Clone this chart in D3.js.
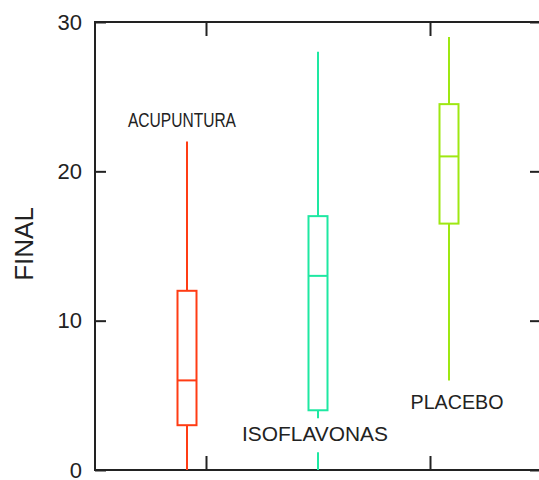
<!DOCTYPE html>
<html>
<head>
<meta charset="utf-8">
<script src="https://cdn.jsdelivr.net/npm/d3@7"></script>
<style>
  html, body { margin: 0; padding: 0; background: #fff; }
  svg { display: block; }
</style>
</head>
<body>
<svg id="chart" width="539" height="480"></svg>
<script>
// Box-plot summaries for each treatment group
const categories = ["ACUPUNTURA", "ISOFLAVONAS", "PLACEBO"];
const mins    = [0, 0, 6];
const q1s     = [3, 4, 16.5];
const medians = [6, 13, 21];
const q3s     = [12, 17, 24.5];
const maxs    = [22, 28, 29];
const yTicks  = [0, 10, 20, 30];
const xTicks  = [1, 3];
const yTitle  = "FINAL";

const colors = ["#ff3c14", "#1ee8a2", "#9ee812"];

const svg = d3.select("#chart");
const plotLeft = 95, plotRight = 542, plotTop = 22, plotBottom = 470;

const y = d3.scaleLinear().domain([0, 30]).range([plotBottom, plotTop]);
const xFrame = d3.scaleLinear().domain([0, 4]).range([94, 542]);
const x = d3.scalePoint().domain(categories).range([187, 449]);

const frameColor = "#222";

// Frame
svg.append("rect")
  .attr("x", plotLeft).attr("y", plotTop)
  .attr("width", plotRight - plotLeft).attr("height", plotBottom - plotTop)
  .attr("fill", "none").attr("stroke", frameColor).attr("stroke-width", 2);

// Y axis (left) with inward ticks
const yAxisL = d3.axisLeft(y).tickValues(yTicks).tickSize(-11).tickPadding(13).tickSizeOuter(0);
const gL = svg.append("g").attr("transform", `translate(${plotLeft},0)`).call(yAxisL);
gL.select(".domain").remove();
gL.selectAll(".tick line").attr("stroke", frameColor).attr("stroke-width", 2);
gL.selectAll(".tick text")
  .attr("font-family", "Liberation Sans, Arial, sans-serif")
  .attr("font-size", 22).attr("fill", "#222");

// Y axis (right) ticks
const yAxisR = d3.axisRight(y).tickValues(yTicks).tickSize(-12).tickFormat("");
const gR = svg.append("g").attr("transform", `translate(${plotRight},0)`).call(yAxisR);
gR.select(".domain").remove();
gR.selectAll(".tick line").attr("stroke", frameColor).attr("stroke-width", 2);

// X ticks, bottom and top
const xAxisB = d3.axisBottom(xFrame).tickValues(xTicks).tickSize(-14).tickFormat("");
const gB = svg.append("g").attr("transform", `translate(0,${plotBottom})`).call(xAxisB);
gB.select(".domain").remove();
gB.selectAll(".tick line").attr("stroke", frameColor).attr("stroke-width", 2);

const xAxisT = d3.axisTop(xFrame).tickValues(xTicks).tickSize(-14).tickFormat("");
const gT = svg.append("g").attr("transform", `translate(0,${plotTop})`).call(xAxisT);
gT.select(".domain").remove();
gT.selectAll(".tick line").attr("stroke", frameColor).attr("stroke-width", 2);

// Y title
svg.append("text")
  .attr("transform", `translate(33,244) rotate(-90)`)
  .attr("text-anchor", "middle")
  .attr("font-family", "Liberation Sans, Arial, sans-serif")
  .attr("font-size", 26).attr("fill", "#222")
  .text(yTitle);

// Boxes
const boxW = 19;
const data = categories.map((c, i) => ({
  name: c, min: mins[i], q1: q1s[i], med: medians[i], q3: q3s[i], max: maxs[i], color: colors[i]
}));

const groups = svg.append("g").selectAll("g").data(data).join("g");

groups.append("line")
  .attr("x1", d => x(d.name)).attr("x2", d => x(d.name))
  .attr("y1", d => y(d.max)).attr("y2", d => y(d.q3))
  .attr("stroke", d => d.color).attr("stroke-width", 2);
groups.append("line")
  .attr("x1", d => x(d.name)).attr("x2", d => x(d.name))
  .attr("y1", d => y(d.q1)).attr("y2", d => y(d.min))
  .attr("stroke", d => d.color).attr("stroke-width", 2);
groups.append("rect")
  .attr("x", d => x(d.name) - boxW / 2).attr("width", boxW)
  .attr("y", d => y(d.q3)).attr("height", d => y(d.q1) - y(d.q3))
  .attr("fill", "none").attr("stroke", d => d.color).attr("stroke-width", 2);
groups.append("line")
  .attr("x1", d => x(d.name) - boxW / 2).attr("x2", d => x(d.name) + boxW / 2)
  .attr("y1", d => y(d.med)).attr("y2", d => y(d.med))
  .attr("stroke", d => d.color).attr("stroke-width", 2);

// Group labels (ISOFLAVONAS sits over its whisker on a white patch)
const labelSpec = [
  { i: 0, dx: -5, yPos: d => y(d.max) - 14, len: 108 },
  { i: 1, dx: -3, yPos: d => y(d.q1) + 31, len: 146 },
  { i: 2, dx: 8,  yPos: d => y(d.min) + 29, len: 93 }
];
labelSpec.forEach(s => {
  const d = data[s.i];
  const cx = x(d.name) + s.dx, by = s.yPos(d);
  if (s.i === 1) {
    svg.append("rect")
      .attr("x", cx - s.len / 2 - 2).attr("y", by - 23)
      .attr("width", s.len + 4).attr("height", 34)
      .attr("fill", "#fff");
  }
  svg.append("text")
    .attr("x", cx).attr("y", by)
    .attr("text-anchor", "middle")
    .attr("font-family", "Liberation Sans, Arial, sans-serif")
    .attr("font-size", 20).attr("fill", "#222")
    .attr("textLength", s.len).attr("lengthAdjust", "spacingAndGlyphs")
    .text(d.name);
});
</script>
</body>
</html>
